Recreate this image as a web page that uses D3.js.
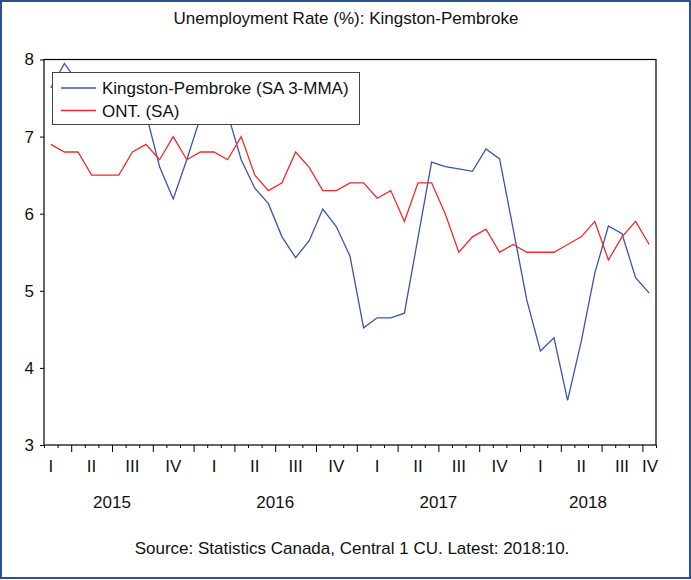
<!DOCTYPE html>
<html>
<head>
<meta charset="utf-8">
<script src="https://cdn.jsdelivr.net/npm/d3@7"></script>
<style>
  body { margin: 0; background: #fff; }
  svg text { font-family: "Liberation Sans", Arial, sans-serif; fill: #111; }
</style>
</head>
<body>
<div id="chart"></div>
<script>
// Monthly observations, Feb 2015 .. Oct 2018
const periods = d3.timeMonth.range(new Date(2015, 1, 1), new Date(2018, 10, 1));

// Kingston-Pembroke (SA 3-MMA)
const kingston = [
  7.63, 7.95, 7.7, 7.5, 7.6, 7.8, 7.6, 7.3, 6.61, 6.19, 6.7,
  7.25, 7.5, 7.3, 6.7, 6.33, 6.13, 5.7, 5.43, 5.65, 6.06, 5.83, 5.45, 4.52,
  4.65, 4.65, 4.71, 5.69, 6.67, 6.61, 6.58, 6.55, 6.84, 6.71, 5.8, 4.88,
  4.22, 4.39, 3.58, 4.34, 5.23, 5.84, 5.74, 5.17, 4.97
];

// ONT. (SA)
const ontario = [
  6.9, 6.8, 6.8, 6.5, 6.5, 6.5, 6.8, 6.9, 6.7, 7.0, 6.7,
  6.8, 6.8, 6.7, 7.0, 6.5, 6.3, 6.4, 6.8, 6.6, 6.3, 6.3, 6.4, 6.4,
  6.2, 6.3, 5.9, 6.4, 6.4, 6.0, 5.5, 5.7, 5.8, 5.5, 5.6, 5.5,
  5.5, 5.5, 5.6, 5.7, 5.9, 5.4, 5.7, 5.9, 5.6
];

const seriesNames = ["Kingston-Pembroke (SA 3-MMA)", "ONT. (SA)"];
const seriesColors = ["#3a55ad", "#f02a2a"];
const quarterLabels = ["I", "II", "III", "IV"];
const years = [2015, 2016, 2017, 2018];
const yTicks = [3, 4, 5, 6, 7, 8];

const width = 691, height = 580;
const plot = { left: 44, right: 656, top: 59.5, bottom: 445 };

const svg = d3.select("#chart").append("svg")
  .attr("width", width)
  .attr("height", height);

// outer frame
svg.append("rect")
  .attr("x", 1).attr("y", 1)
  .attr("width", width - 2).attr("height", height - 3)
  .attr("fill", "#fff")
  .attr("stroke", "#2f4f8f")
  .attr("stroke-width", 2);

// months counted from Jan 2015
const monthNum = (d) => (d.getFullYear() - 2015) * 12 + d.getMonth();

const x = d3.scaleLinear()
  .domain([1, 46])
  .range([plot.left, plot.right]);

const y = d3.scaleLinear()
  .domain([3, 8])
  .range([plot.bottom, plot.top]);

// title
svg.append("text")
  .attr("x", 346)
  .attr("y", 24)
  .attr("text-anchor", "middle")
  .style("font-size", "17px")
  .text("Unemployment Rate (%): Kingston-Pembroke");

// y axis
const yAxis = svg.append("g")
  .attr("transform", `translate(${plot.left},0)`)
  .call(d3.axisLeft(y).tickValues(yTicks).tickFormat(d3.format("d"))
    .tickSize(4).tickPadding(6).tickSizeOuter(0));
yAxis.select(".domain").remove();
yAxis.selectAll("text")
  .style("font-size", "17px")
  .style("font-family", "'Liberation Sans', Arial, sans-serif")
  .attr("fill", "#111");

// bottom month ticks (long ones on quarter boundaries)
const xAxis = svg.append("g")
  .attr("transform", `translate(0,${plot.bottom})`)
  .call(d3.axisBottom(x).tickValues(d3.range(1, 47)).tickSize(3).tickFormat("").tickSizeOuter(0));
xAxis.select(".domain").remove();
xAxis.selectAll(".tick line")
  .attr("y2", (d) => (d % 3 === 0 ? 7 : 3));

// quarter labels
const quarters = d3.range(years.length * 4);
svg.append("g")
  .selectAll("text")
  .data(quarters)
  .join("text")
  .attr("y", 472)
  .attr("text-anchor", "middle")
  .style("font-size", "17px")
  .text((q) => quarterLabels[q % 4])
  .attr("x", function (q) {
    const w = this.getComputedTextLength();
    const c = x(q * 3 + 1.5);
    return Math.max(plot.left + w / 2, Math.min(plot.right - w / 2 + 2, c));
  });

// year labels
svg.append("g")
  .selectAll("text")
  .data(years)
  .join("text")
  .attr("x", (d, i) => (x(i * 12) + Math.min(x(i * 12 + 12), plot.right)) / 2)
  .attr("y", 508)
  .attr("text-anchor", "middle")
  .style("font-size", "17px")
  .text((d) => d);

// plot frame
svg.append("rect")
  .attr("x", plot.left).attr("y", plot.top)
  .attr("width", plot.right - plot.left)
  .attr("height", plot.bottom - plot.top)
  .attr("fill", "none")
  .attr("stroke", "#000")
  .attr("stroke-width", 1.2);

// lines
const line = d3.line()
  .x((d) => x(monthNum(d.date) + 0.5))
  .y((d) => y(d.value));

[kingston, ontario].forEach((values, i) => {
  svg.append("path")
    .datum(periods.map((date, j) => ({ date, value: values[j] })))
    .attr("fill", "none")
    .attr("stroke", seriesColors[i])
    .attr("stroke-width", 1.3)
    .attr("d", line);
});

// legend
const legend = svg.append("g");
legend.append("rect")
  .attr("x", 52.5).attr("y", 72.5)
  .attr("width", 307).attr("height", 52)
  .attr("fill", "#fff")
  .attr("stroke", "#444")
  .attr("stroke-width", 1);

seriesNames.forEach((name, i) => {
  const ly = 88 + i * 22.5;
  legend.append("line")
    .attr("x1", 61).attr("x2", 96)
    .attr("y1", ly).attr("y2", ly)
    .attr("stroke", seriesColors[i])
    .attr("stroke-width", 1.3);
  legend.append("text")
    .attr("x", 102)
    .attr("y", ly + 6)
    .style("font-size", "17px")
    .text(name);
});

// source note
svg.append("text")
  .attr("x", 352)
  .attr("y", 554)
  .attr("text-anchor", "middle")
  .style("font-size", "17px")
  .text("Source: Statistics Canada, Central 1 CU. Latest: 2018:10.");
</script>
</body>
</html>
